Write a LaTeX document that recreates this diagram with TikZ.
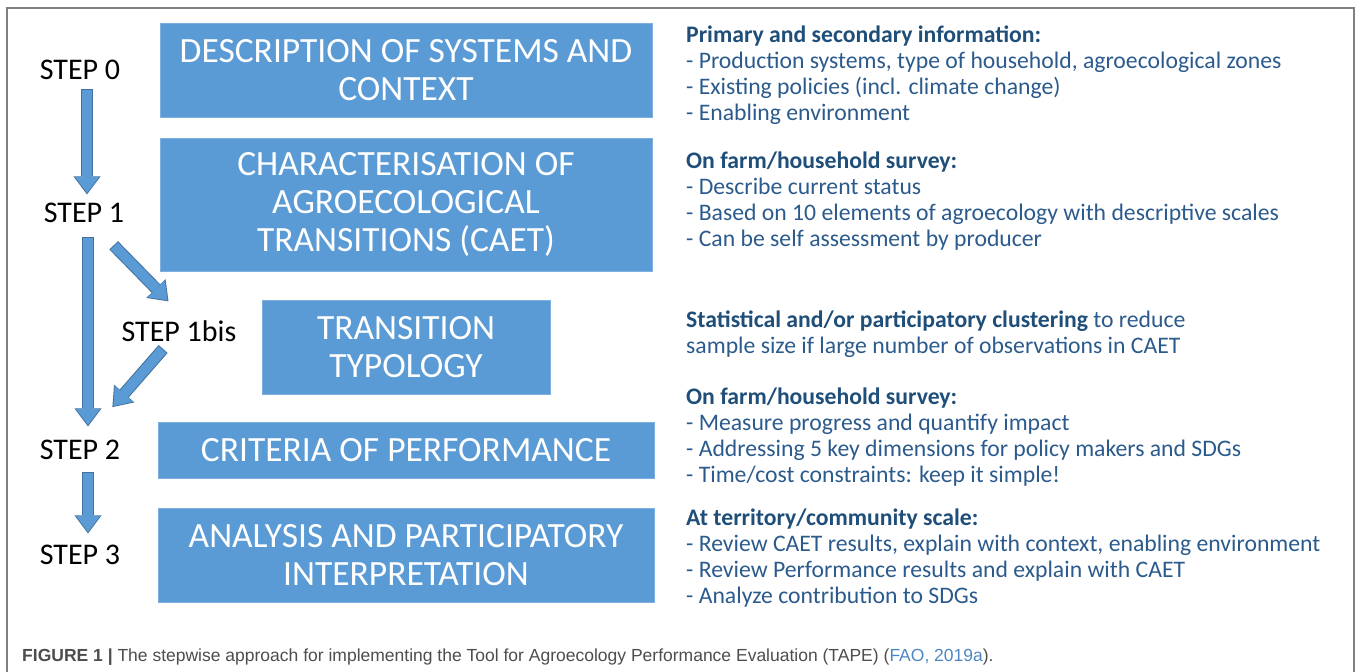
\documentclass[tikz,border=0pt]{standalone}
\usepackage{fontspec}
\setmainfont{Carlito}
\newfontfamily\capfont{Liberation Sans}
\usetikzlibrary{arrows.meta}

\definecolor{boxblue}{HTML}{5B9BD5}
\definecolor{boxline}{HTML}{7DB0DF}
\definecolor{arrowedge}{HTML}{41719C}
\definecolor{notehead}{HTML}{1F4E79}
\definecolor{notetext}{HTML}{2B5A8C}
\definecolor{framegray}{HTML}{808080}
\definecolor{capgray}{HTML}{4D4D4D}
\definecolor{caplink}{HTML}{4A86C5}

\tikzset{
  stepbox/.style={fill=boxblue, draw=boxline, line width=1pt, text=white, align=center,
    inner sep=0pt, font=\fontsize{35.5}{38}\selectfont},
  steplabel/.style={inner sep=0pt, font=\fontsize{30}{32}\selectfont},
  notes/.style={anchor=north west, inner sep=0pt, align=left, text=notetext,
    font=\fontsize{23.7}{26}\selectfont},
  flowarrow/.style={draw=boxblue, line width=10pt,
    -{Triangle[width=24pt,length=16pt,line width=0pt]},
    preaction={draw=arrowedge, line width=12pt, shorten <=-1pt, shorten >=-1.5pt,
      -{Triangle[width=27pt,length=18pt,line width=0pt]}}},
}

\begin{document}
\begin{tikzpicture}[x=1pt,y=-1pt]
\useasboundingbox (0,0) rectangle (1358,672);

% frame, open at the bottom
\draw[framegray, line width=2pt] (7,672) -- (7,8) -- (1354,8) -- (1354,672);

% boxes
\node[stepbox, minimum width=492pt, minimum height=94pt] (desc) at (406,70) {DESCRIPTION OF SYSTEMS AND\\CONTEXT};
\node[stepbox, minimum width=492pt, minimum height=133pt] (caet) at (406,204.5) {CHARACTERISATION OF\\AGROECOLOGICAL\\TRANSITIONS (CAET)};
\node[stepbox, minimum width=288pt, minimum height=94pt] (typo) at (406,347) {TRANSITION\\TYPOLOGY};
\node[stepbox, minimum width=496pt, minimum height=56pt] (crit) at (406,450) {CRITERIA OF PERFORMANCE};
\node[stepbox, minimum width=496pt, minimum height=94pt] (anal) at (406,555) {ANALYSIS AND PARTICIPATORY\\INTERPRETATION};

% step labels
\node[steplabel] (s0) at (80,70) {STEP 0};
\node[steplabel] (s1) at (84,213) {STEP 1};
\node[steplabel] (s1bis) at (179,331) {STEP 1bis};
\node[steplabel] (s2) at (80,450) {STEP 2};
\node[steplabel] (s3) at (80,555) {STEP 3};

% arrows
\draw[flowarrow] ([xshift=7pt,yshift=-10pt]s0.south) -- ([xshift=3pt,yshift=10pt]s1.north);
\draw[flowarrow] ([xshift=4pt,yshift=-15pt]s1.south) -- ([xshift=8pt,yshift=15pt]s2.north);
\draw[flowarrow] ([xshift=-10pt,yshift=-23pt]s1.south east) -- ([xshift=46pt,yshift=20pt]s1bis.north west);
\draw[flowarrow] ([xshift=41pt,yshift=-8pt]s1bis.south west) -- ([xshift=-7pt,yshift=34pt]s2.north east);
\draw[flowarrow] ([xshift=8pt,yshift=-13pt]s2.south) -- ([xshift=8pt,yshift=13pt]s3.north);

% notes on the right
\node[notes] (n0) at (686,26) {\textbf{\color{notehead}Primary and secondary information:}\\
- Production systems, type of household, agroecological zones\\
- Existing policies (incl. climate change)\\
- Enabling environment};
\node[notes] (n1) at (686,152) {\textbf{\color{notehead}On farm/household survey:}\\
- Describe current status\\
- Based on 10 elements of agroecology with descriptive scales\\
- Can be self assessment by producer};
\node[notes] (n1bis) at (686,311) {\textbf{\color{notehead}Statistical and/or participatory clustering} to reduce\\
sample size if large number of observations in CAET};
\node[notes] (n2) at (686,388) {\textbf{\color{notehead}On farm/household survey:}\\
- Measure progress and quantify impact\\
- Addressing 5 key dimensions for policy makers and SDGs\\
- Time/cost constraints: keep it simple!};
\node[notes] (n3) at (686,509) {\textbf{\color{notehead}At territory/community scale:}\\
- Review CAET results, explain with context, enabling environment\\
- Review Performance results and explain with CAET\\
- Analyze contribution to SDGs};

% caption
\node[anchor=base west, inner sep=0pt, text=capgray, font=\capfont\fontsize{17.5}{20}\selectfont] (cap) at (22,661)
  {\textbf{FIGURE 1 |} The stepwise approach for implementing the Tool for Agroecology Performance Evaluation (TAPE) ({\color{caplink}FAO, 2019a}).};
\end{tikzpicture}
\end{document}
